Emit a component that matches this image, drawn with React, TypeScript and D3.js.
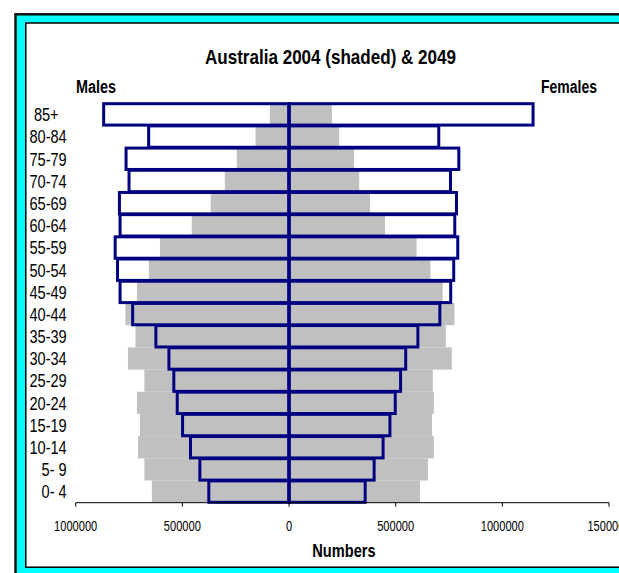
import React from "react";
import * as d3 from "d3";

const ageGroups = ["0- 4", "5- 9", "10-14", "15-19", "20-24", "25-29", "30-34", "35-39", "40-44", "45-49", "50-54", "55-59", "60-64", "65-69", "70-74", "75-79", "80-84", "85+\u00a0\u00a0"];
const males2004 = [643000, 678000, 708000, 699000, 713000, 678000, 755000, 720000, 767000, 713000, 657000, 605000, 456000, 367000, 301000, 245000, 157000, 90000];
const females2004 = [614000, 651000, 679000, 670000, 679000, 674000, 763000, 735000, 776000, 720000, 663000, 598000, 450000, 380000, 329000, 305000, 235000, 201000];
const males2049 = [376000, 418000, 462000, 499000, 524000, 540000, 563000, 624000, 733000, 792000, 804000, 815000, 792000, 795000, 750000, 764000, 658000, 869000];
const females2049 = [357000, 399000, 441000, 473000, 498000, 523000, 547000, 604000, 707000, 758000, 772000, 791000, 777000, 785000, 757000, 796000, 702000, 1144000];
const xTicks = [-1000000, -500000, 0, 500000, 1000000, 1500000];

const FONT = "'Liberation Sans', Arial, sans-serif";
const NAVY = "#000080";
const GRAY = "#C0C0C0";

export default function App() {
  const W = 619, H = 573;
  const x = d3.scaleLinear().domain([-1000000, 1500000]).range([75.7, 609]);
  const top = 103.3, bottom = 502.7;
  const y = d3.scaleBand<string>().domain([...ageGroups].reverse()).range([top, bottom]).padding(0);
  const bw = y.bandwidth();
  const x0 = x(0);

  return (
    <svg width={W} height={H} style={{ position: "absolute", left: 0, top: 0, overflow: "hidden" }} fontFamily={FONT}>
      {/* frame */}
      <rect x={15.5} y={14.3} width={640} height={600} fill="#00FFFF" stroke="#111" strokeWidth={2.5} />
      <rect x={25.8} y={23} width={620} height={544.2} fill="#FFFFFF" stroke="#000" strokeWidth={1.5} />

      {/* title */}
      <text x={205} y={64} fontSize={21} fontWeight="bold" textLength={251} lengthAdjust="spacingAndGlyphs" fill="#000">
        Australia 2004 (shaded) &amp; 2049
      </text>
      <text x={76} y={92.5} fontSize={18} fontWeight="bold" textLength={40} lengthAdjust="spacingAndGlyphs" fill="#000">Males</text>
      <text x={541} y={92.5} fontSize={18} fontWeight="bold" textLength={56} lengthAdjust="spacingAndGlyphs" fill="#000">Females</text>

      {/* 2004 shaded bars */}
      {ageGroups.map((g, i) => (
        <g key={"s" + i}>
          <rect x={x(-males2004[i])} y={y(g)} width={x0 - x(-males2004[i])} height={bw} fill={GRAY} />
          <rect x={x0} y={y(g)} width={x(females2004[i]) - x0} height={bw} fill={GRAY} />
        </g>
      ))}

      {/* 2049 outlined bars */}
      {ageGroups.map((g, i) => (
        <g key={"o" + i} fill="none" stroke={NAVY} strokeWidth={3}>
          <rect x={x(-males2049[i])} y={(y(g) as number) + 0.4} width={x0 - x(-males2049[i])} height={bw - 0.8} />
          <rect x={x0} y={(y(g) as number) + 0.4} width={x(females2049[i]) - x0} height={bw - 0.8} />
        </g>
      ))}
      <line x1={x0} x2={x0} y1={top} y2={bottom} stroke={NAVY} strokeWidth={3} />

      {/* category labels */}
      {ageGroups.map((g) => (
        <text key={"l" + g} transform={`translate(66.7, ${(y(g) as number) + bw / 2 + 6.8}) scale(0.81,1)`} textAnchor="end" fontSize={18} fill="#000" xmlSpace="preserve">
          {g}
        </text>
      ))}

      {/* x axis */}
      <line x1={x(-1000000)} x2={x(1500000)} y1={bottom} y2={bottom} stroke="#000" strokeWidth={1} />
      {xTicks.map((t) => (
        <g key={"t" + t}>
          <line x1={x(t)} x2={x(t)} y1={bottom} y2={bottom + 4} stroke="#000" strokeWidth={1} />
          <text transform={`translate(${x(t)}, 531) scale(0.74,1)`} textAnchor="middle" fontSize={15} fill="#000">
            {String(Math.abs(t))}
          </text>
        </g>
      ))}
      <text x={312.3} y={556.5} fontSize={18} fontWeight="bold" textLength={63.4} lengthAdjust="spacingAndGlyphs" fill="#000">Numbers</text>
    </svg>
  );
}
